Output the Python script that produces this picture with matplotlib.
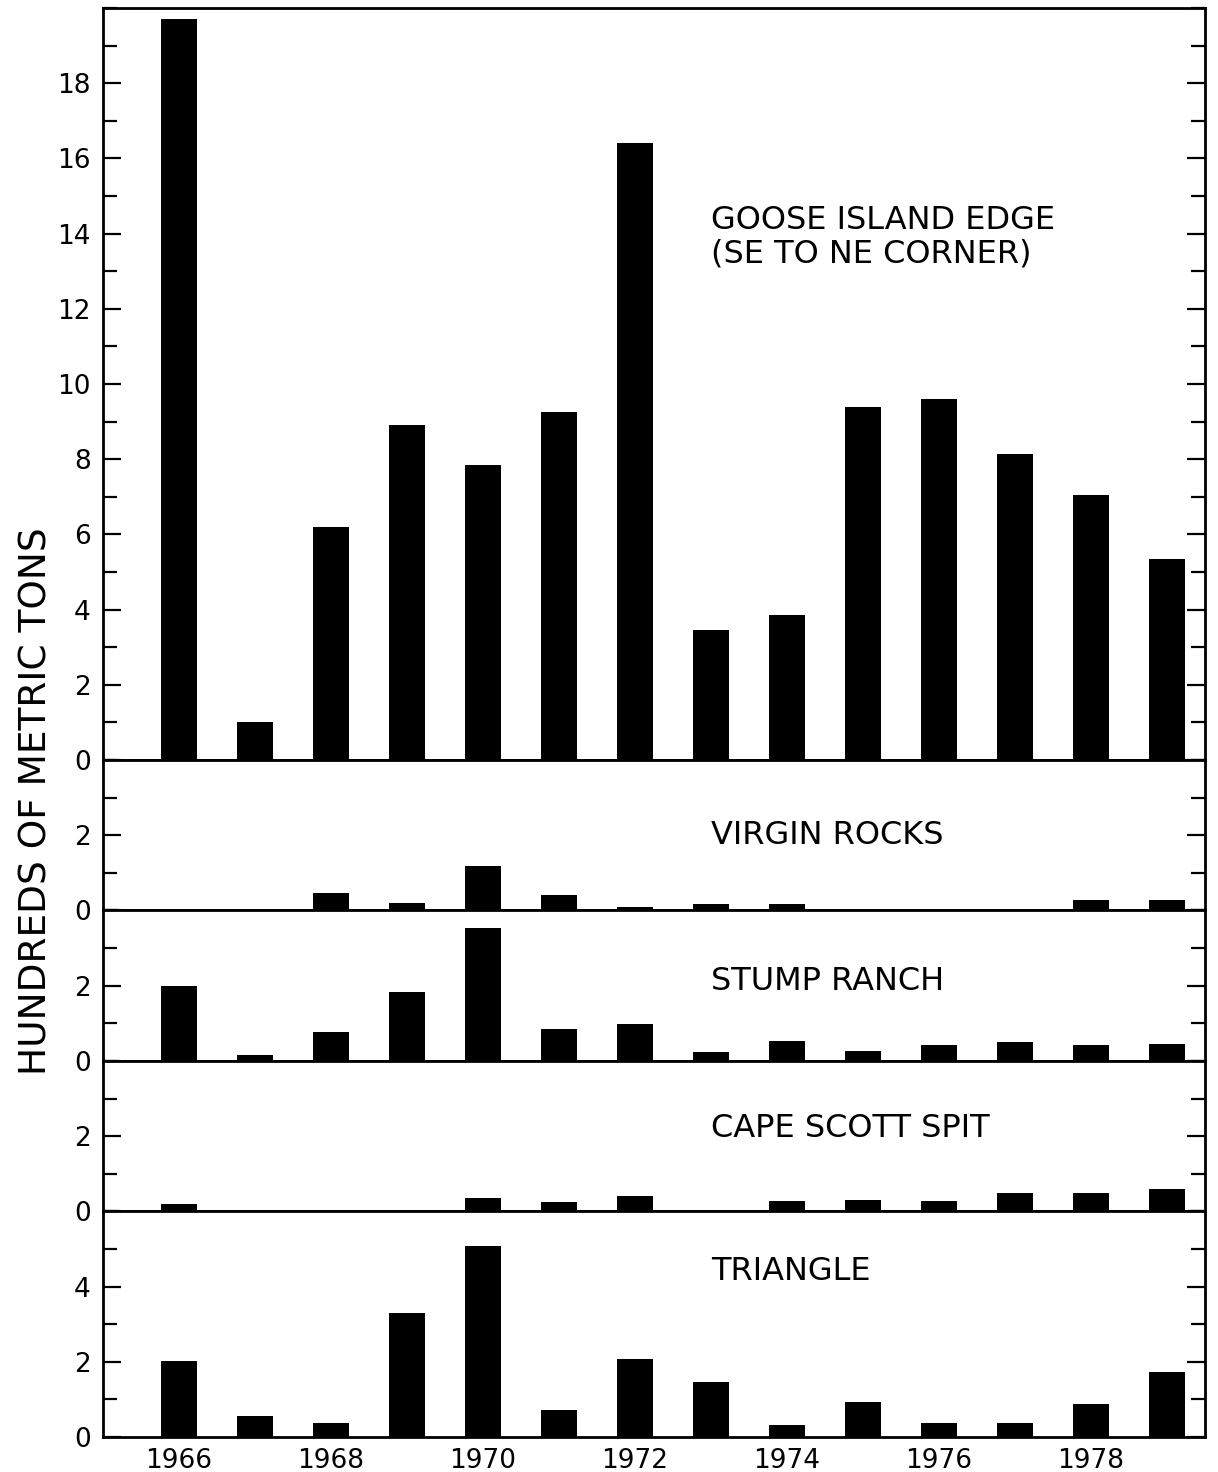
import matplotlib
matplotlib.use('Agg')
import matplotlib.pyplot as plt
from matplotlib.ticker import MultipleLocator

# Years and catch (hundreds of metric tons) for each bank
years = [1966, 1967, 1968, 1969, 1970, 1971, 1972, 1973, 1974, 1975, 1976, 1977, 1978, 1979]

goose_island = [19.7, 1.0, 6.2, 8.9, 7.85, 9.25, 16.4, 3.45, 3.85, 9.4, 9.6, 8.15, 7.05, 5.35]
virgin_rocks = [0, 0, 0.46, 0.2, 1.19, 0.41, 0.08, 0.16, 0.16, 0, 0, 0, 0.27, 0.27]
stump_ranch = [2.0, 0.16, 0.78, 1.84, 3.54, 0.84, 0.97, 0.24, 0.54, 0.27, 0.41, 0.51, 0.41, 0.46]
cape_scott = [0.19, 0, 0, 0, 0.35, 0.24, 0.4, 0, 0.27, 0.3, 0.27, 0.49, 0.49, 0.6]
triangle = [2.02, 0.57, 0.37, 3.3, 5.08, 0.71, 2.08, 1.45, 0.32, 0.93, 0.38, 0.38, 0.87, 1.72]

panel_names = ['GOOSE ISLAND EDGE\n(SE TO NE CORNER)', 'VIRGIN ROCKS',
               'STUMP RANCH', 'CAPE SCOTT SPIT', 'TRIANGLE']
panel_data = [goose_island, virgin_rocks, stump_ranch, cape_scott, triangle]
panel_tops = [20, 4, 4, 4, 6]
label_y = [13.9, 2.0, 2.1, 2.2, 4.4]

xtick_years = [1966, 1968, 1970, 1972, 1974, 1976, 1978]

fig = plt.figure(figsize=(12.18, 14.72), dpi=100)
gs = fig.add_gridspec(5, 1, height_ratios=panel_tops, hspace=0,
                      left=0.0846, right=0.9893, top=0.9946, bottom=0.0238)

axes = []
for i in range(5):
    ax = fig.add_subplot(gs[i], sharex=axes[0] if axes else None)
    axes.append(ax)
    ax.bar(years, panel_data[i], width=0.47, color='black')
    ax.set_xlim(1965.0, 1979.5)
    ax.set_ylim(0, panel_tops[i])

    # labelled ticks every 2, short ticks every 1, on both sides
    ax.set_yticks(list(range(0, panel_tops[i], 2)))
    ax.yaxis.set_minor_locator(MultipleLocator(1))
    ax.tick_params(axis='y', which='both', direction='in', left=True, right=True,
                   width=1.6, labelsize=19, pad=9)
    ax.tick_params(axis='y', which='major', length=13)
    ax.tick_params(axis='y', which='minor', length=10)

    for sp in ax.spines.values():
        sp.set_linewidth(2)

    ax.text(1973.0, label_y[i], panel_names[i], fontsize=23, ha='left', va='center',
            linespacing=1.12)

    if i < 4:
        ax.tick_params(axis='x', which='both', bottom=False, labelbottom=False)

axes[-1].set_xticks(xtick_years)
axes[-1].set_xticklabels([str(y) for y in xtick_years])
axes[-1].tick_params(axis='x', length=0, labelsize=19, pad=8)

fig.text(0.03, 0.456, 'HUNDREDS OF METRIC TONS', rotation=90, fontsize=27,
         ha='center', va='center')

fig.savefig('out.png', dpi=100)
